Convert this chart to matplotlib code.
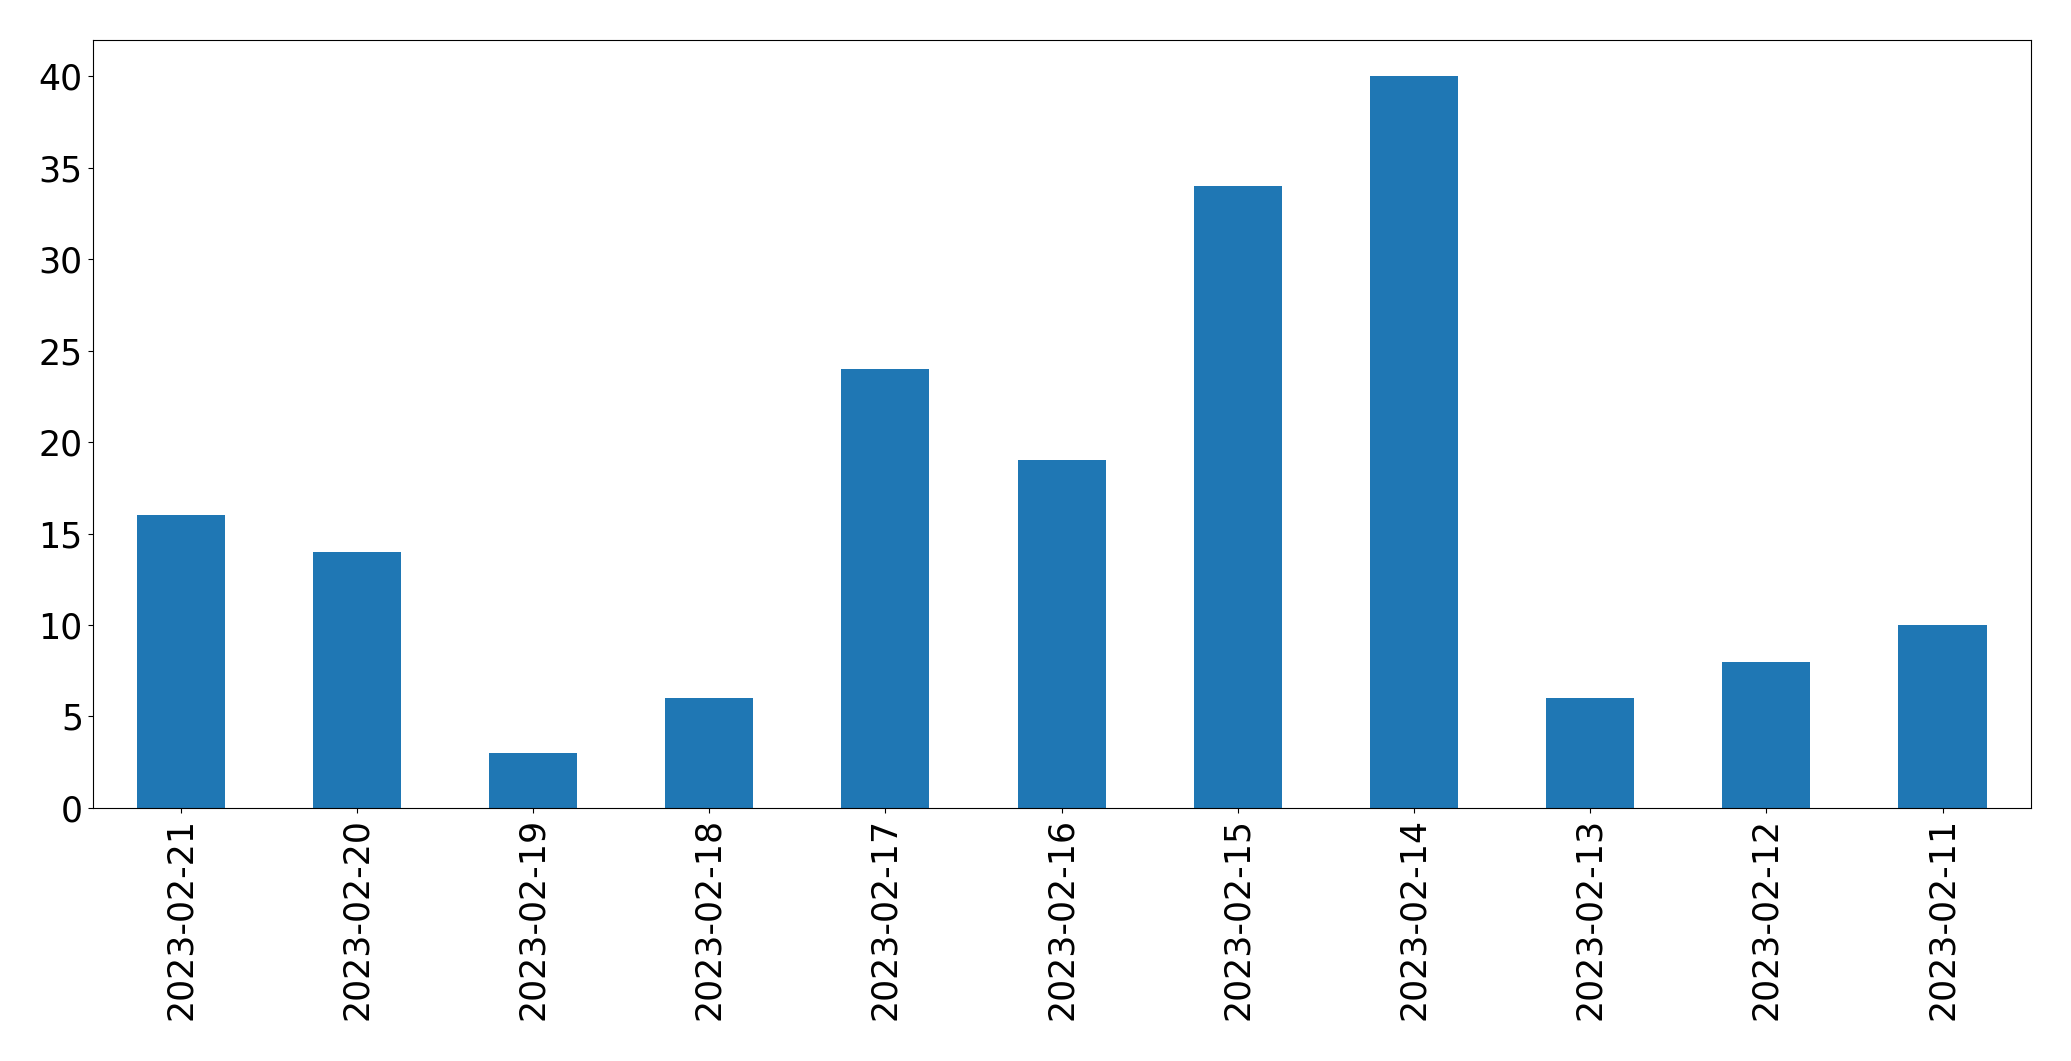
import matplotlib
matplotlib.use("Agg")
import matplotlib.pyplot as plt
import pandas as pd

# daily counts, most recent first
dates = ["2023-02-21", "2023-02-20", "2023-02-19", "2023-02-18", "2023-02-17",
         "2023-02-16", "2023-02-15", "2023-02-14", "2023-02-13", "2023-02-12",
         "2023-02-11"]
counts = [16, 14, 3, 6, 24, 19, 34, 40, 6, 8, 10]

series = pd.Series(counts, index=dates)

fig, ax = plt.subplots(figsize=(20.71, 10.61), dpi=100)
series.plot(kind="bar", ax=ax, color="#1f77b4", fontsize=25)
ax.tick_params(axis="x", labelrotation=90)

fig.subplots_adjust(left=0.0447, right=0.9805, top=0.9627, bottom=0.2385)
fig.savefig("out.png", dpi=100)
